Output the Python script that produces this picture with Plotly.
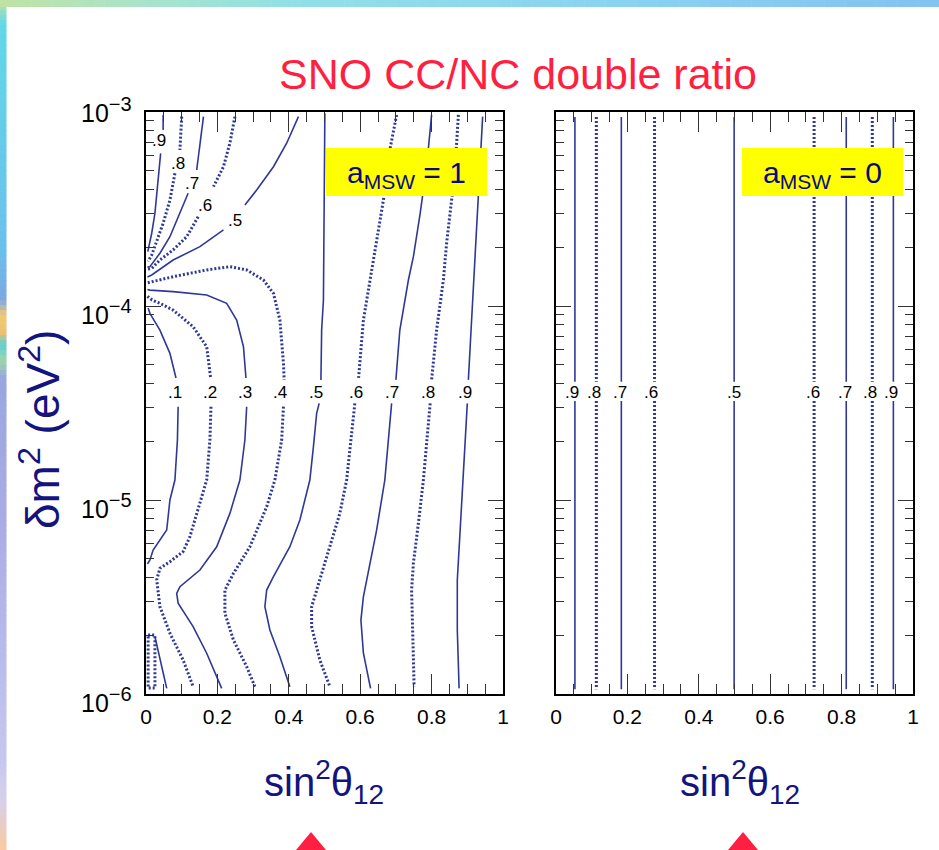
import plotly.graph_objects as go
import numpy as np

# ---------------- data (sin^2 theta12, log10 dm^2) ----------------
# a_MSW = 1 panel : upper-left family (converging at resonance)
u9_x = [0.048, 0.048, None, 0.041, 0.034, 0.025, 0.016, 0.009, 0.005]
u9_lg = [-3.015, -3.093, None, -3.213, -3.368, -3.522, -3.625, -3.677, -3.72]
u8_x = [0.100, 0.095, None, 0.081, 0.067, 0.048, 0.030, 0.016, 0.006]
u8_lg = [-3.024, -3.196, None, -3.316, -3.454, -3.574, -3.660, -3.737, -3.77]
u7_x = [0.161, 0.151, 0.142, None, 0.118, 0.095, 0.067, 0.039, 0.011, 0.004]
u7_lg = [-3.024, -3.179, -3.299, None, -3.419, -3.522, -3.643, -3.728, -3.797, -3.80]
u6_x = [0.249, 0.235, 0.217, 0.189, None, 0.146, 0.114, 0.076, 0.039, 0.016, 0.004]
u6_lg = [-3.024, -3.161, -3.282, -3.385, None, -3.540, -3.643, -3.711, -3.763, -3.806, -3.81]
u5_x = [0.427, 0.394, 0.357, 0.310, 0.277, None, 0.217, 0.151, 0.076, 0.016, 0.004]
u5_lg = [-3.024, -3.161, -3.282, -3.402, -3.479, None, -3.608, -3.694, -3.763, -3.840, -3.85]

# a_MSW = 1 panel : main family
c1_x = [0.006, 0.011, 0.039, 0.067, 0.084, None, 0.090, 0.088, 0.081, 0.067, 0.058, 0.034, 0.020, 0.011, 0.004]
c1_lg = [-4.01, -4.038, -4.124, -4.244, -4.371, None, -4.519, -4.691, -4.897, -5.000, -5.155, -5.223, -5.258, -5.309, -5.33]
c1b_x = [0.025, 0.058]
c1b_lg = [-5.705, -5.971]
c0_x = [0.006, 0.025, 0.025, 0.006, 0.006]
c0_lg = [-5.696, -5.696, -5.969, -5.969, -5.696]
c2_x = [0.004, 0.017, 0.039, 0.076, 0.132, 0.170, 0.181, None, 0.182, 0.179, 0.170, 0.151, 0.123, 0.104, 0.067, 0.039, 0.030, 0.039, 0.067, 0.104, 0.132]
c2_lg = [-3.95, -3.969, -3.986, -4.021, -4.107, -4.210, -4.371, None, -4.519, -4.691, -4.897, -5.017, -5.189, -5.266, -5.318, -5.352, -5.412, -5.550, -5.687, -5.825, -5.962]
c3_x = [0.004, 0.011, 0.076, 0.170, 0.226, 0.254, 0.273, 0.280, None, 0.282, 0.277, 0.263, 0.235, 0.198, 0.151, 0.095, 0.086, 0.090, 0.132, 0.170, 0.212]
c3_lg = [-3.915, -3.918, -3.926, -3.943, -3.986, -4.072, -4.210, -4.371, None, -4.519, -4.691, -4.897, -5.069, -5.241, -5.361, -5.447, -5.481, -5.532, -5.653, -5.790, -5.971]
c4_x = [0.005, 0.016, 0.076, 0.170, 0.235, 0.282, 0.329, 0.357, 0.375, 0.385, 0.387, None, 0.385, 0.380, 0.361, 0.338, 0.291, 0.245, 0.221, 0.221, 0.245, 0.282, 0.305]
c4_lg = [-3.88, -3.875, -3.849, -3.814, -3.797, -3.814, -3.866, -3.935, -4.072, -4.295, -4.381, None, -4.519, -4.691, -4.897, -5.035, -5.241, -5.378, -5.464, -5.584, -5.722, -5.859, -5.962]
c5_x = [0.501, 0.499, 0.497, 0.492, 0.490, None, 0.485, 0.478, 0.469, 0.459, 0.431, 0.403, 0.357, 0.338, 0.333, 0.347, 0.375, 0.403]
c5_lg = [-3.007, -3.454, -3.969, -4.124, -4.381, None, -4.502, -4.553, -4.725, -4.897, -5.103, -5.241, -5.395, -5.464, -5.550, -5.670, -5.808, -5.962]
c6_x = [0.702, 0.683, 0.665, 0.646, 0.627, 0.609, 0.595, None, 0.585, 0.562, 0.543, 0.515, 0.478, 0.464, 0.464, 0.487, 0.515]
c6_lg = [-3.015, -3.196, -3.454, -3.660, -3.866, -4.072, -4.381, None, -4.502, -4.897, -5.069, -5.241, -5.464, -5.550, -5.653, -5.825, -5.962]
c7_x = [0.800, 0.786, 0.768, 0.749, 0.735, 0.711, 0.700, None, 0.688, 0.669, 0.646, 0.627, 0.609, 0.602, 0.609, 0.629]
c7_lg = [-3.015, -3.282, -3.522, -3.746, -3.866, -4.124, -4.381, None, -4.502, -4.897, -5.155, -5.326, -5.498, -5.619, -5.790, -5.971]
c8_x = [0.875, 0.863, 0.856, 0.842, 0.833, 0.814, 0.800, None, 0.796, 0.777, 0.763, 0.749, 0.744, 0.747, 0.751]
c8_lg = [-3.015, -3.368, -3.454, -3.677, -3.866, -4.124, -4.381, None, -4.502, -4.897, -5.120, -5.326, -5.464, -5.670, -5.962]
c9_x = [0.943, 0.931, 0.919, 0.908, 0.903, None, 0.900, 0.889, 0.880, 0.872, 0.872, 0.877]
c9_lg = [-3.024, -3.454, -3.866, -4.210, -4.381, None, -4.502, -4.897, -5.155, -5.412, -5.670, -5.971]

# contour labels, a_MSW = 1
lab1_text = [".1", ".2", ".3", ".4", ".5", ".6", ".7", ".8", ".9"]
lab1_x = [0.081, 0.179, 0.277, 0.375, 0.476, 0.588, 0.689, 0.790, 0.894]
lab1_lg = [-4.447] * 9
labu_text = [".9", ".8", ".7", ".6", ".5"]
labu_x = [0.036, 0.090, 0.130, 0.166, 0.250]
labu_lg = [-3.149, -3.263, -3.366, -3.482, -3.557]

# a_MSW = 0 panel : vertical contours
r_x = [0.053, 0.113, 0.183, 0.276, 0.499, 0.723, 0.813, 0.886, 0.945]
r_text = [".9", ".8", ".7", ".6", ".5", ".6", ".7", ".8", ".9"]
r_lab_x = [0.045, 0.106, 0.178, 0.266, 0.499, 0.720, 0.810, 0.880, 0.937]
r_lg = [-3.026, -4.39, None, -4.49, -5.975]

x_ticks = [0, 0.2, 0.4, 0.6, 0.8, 1]
x_ticktext = ["0", "0.2", "0.4", "0.6", "0.8", "1"]
y_ticks = [1e-6, 1e-5, 1e-4, 1e-3]
y_exp = [-6, -5, -4, -3]

# ---------------- figure ----------------
W, H = 939, 850
def px(x): return x / W
def py(y): return 1 - y / H

LINE = "#2f3896"
SOLID = dict(color=LINE, width=1.6)
DOT = dict(color=LINE, width=3, dash="2px,2px")
NAVY = "#14147e"
FONT = "Liberation Sans, Arial, sans-serif"

fig = go.Figure()

def add(xs, lgs, style, xa="x", ya="y"):
    ys = [None if v is None else 10 ** v for v in lgs]
    fig.add_trace(go.Scatter(x=xs, y=ys, mode="lines", line=style, xaxis=xa, yaxis=ya,
                             hoverinfo="skip", showlegend=False))

for xs, lg, st in [(u9_x, u9_lg, SOLID), (u8_x, u8_lg, DOT), (u7_x, u7_lg, SOLID),
                   (u6_x, u6_lg, DOT), (u5_x, u5_lg, SOLID),
                   (c1_x, c1_lg, SOLID), (c1b_x, c1b_lg, SOLID), (c0_x, c0_lg, DOT),
                   (c2_x, c2_lg, DOT), (c3_x, c3_lg, SOLID), (c4_x, c4_lg, DOT),
                   (c5_x, c5_lg, SOLID), (c6_x, c6_lg, DOT), (c7_x, c7_lg, SOLID),
                   (c8_x, c8_lg, DOT), (c9_x, c9_lg, SOLID)]:
    add(xs, lg, st)

for i, xv in enumerate(r_x):
    st = DOT if r_text[i] in (".8", ".6") else SOLID
    add([xv, xv, None, xv, xv], r_lg, st, "x2", "y2")

LAB = dict(size=17, color="black", family=FONT)
ann = []
for t, xv, yv in zip(lab1_text, lab1_x, lab1_lg):
    ann.append(dict(x=xv, y=yv, xref="x", yref="y", text=t, showarrow=False, font=LAB,
                    xanchor="center", yanchor="middle"))
for t, xv, yv in zip(labu_text, labu_x, labu_lg):
    ann.append(dict(x=xv, y=yv, xref="x", yref="y", text=t, showarrow=False, font=LAB,
                    xanchor="center", yanchor="middle"))
for t, xv in zip(r_text, r_lab_x):
    ann.append(dict(x=xv, y=-4.447, xref="x2", yref="y2", text=t, showarrow=False, font=LAB,
                    xanchor="center", yanchor="middle"))

# y tick labels (power-of-ten form)
for e in y_exp:
    ann.append(dict(x=px(134), y=e, xref="paper", yref="y", xanchor="right", yanchor="middle",
                    text="10<sup><span style='font-size:20px'>\u2212%d</span></sup>" % (-e),
                    showarrow=False, yshift=(2 if e == -3 else -6),
                    font=dict(size=25, color="black", family=FONT)))

def pann(x, y, text, size, color, angle=0):
    ann.append(dict(x=px(x), y=py(y), xref="paper", yref="paper", text=text, showarrow=False,
                    xanchor="center", yanchor="middle", textangle=angle,
                    font=dict(size=size, color=color, family=FONT)))

# titles
pann(518, 74, "SNO CC/NC double ratio", 43, "#ff1f40")
for cx in (324, 740):
    pann(cx, 782, "sin<sup>2</sup>\u03b8<sub>12</sub>", 40, NAVY)
pann(40, 430, "\u03b4m<sup>2</sup> (eV<sup>2</sup>)", 46, NAVY, -90)

shapes = []
# yellow boxes
for (x0, x1, txt) in [(326, 487, "a<sub>MSW</sub> = 1"), (742, 903, "a<sub>MSW</sub> = 0")]:
    shapes.append(dict(type="rect", xref="paper", yref="paper", x0=px(x0), x1=px(x1),
                       y0=py(196), y1=py(148), fillcolor="#ffff00", line=dict(width=0), layer="above"))
    pann((x0 + x1) / 2, 174, txt, 30, "#0a0a80")

# slide decoration: gradient strips
def hex2rgb(h):
    h = h.lstrip("#"); return np.array([int(h[i:i + 2], 16) for i in (0, 2, 4)], float)
def grad(stops, a, b, n):
    pos = [s[0] for s in stops]; cols = [hex2rgb(s[1]) for s in stops]
    out = []
    for k in range(n):
        t0 = a + (b - a) * k / n; t1 = a + (b - a) * (k + 1) / n; tm = (t0 + t1) / 2
        c = np.array([np.interp(tm, pos, [cc[j] for cc in cols]) for j in range(3)])
        out.append((t0, t1, "rgb(%d,%d,%d)" % tuple(c.astype(int))))
    return out

left_stops = [(0, "#bfe2a6"), (25, "#62d8e8"), (250, "#6cc0ec"), (300, "#7ea8e2"), (315, "#f2ca74"),
              (332, "#f0c070"), (345, "#5ccfd6"), (360, "#9cd8a8"), (378, "#9aa6e0"), (540, "#adaee6"),
              (760, "#c6c8f0"), (800, "#d8d0ec"), (850, "#fbcaa0")]
for y0, y1, c in grad(left_stops, 0, 850, 170):
    shapes.append(dict(type="rect", xref="paper", yref="paper", x0=0, x1=px(6.5), y0=py(y1 + 0.5),
                       y1=py(y0), fillcolor=c, line=dict(width=0), layer="below"))
top_stops = [(0, "#c0e3a4"), (150, "#a8e4cc"), (300, "#90e0e8"), (600, "#8ad4f0"), (939, "#84c2f0")]
for x0, x1, c in grad(top_stops, 0, 939, 90):
    shapes.append(dict(type="rect", xref="paper", yref="paper", x0=px(x0), x1=px(x1 + 0.5), y0=py(7),
                       y1=1, fillcolor=c, line=dict(width=0), layer="below"))
# red triangles at bottom
for cx in (311, 743):
    shapes.append(dict(type="path", xref="paper", yref="paper",
                       path="M %f %f L %f %f L %f %f Z" % (px(cx), py(832), px(cx - 20), py(856), px(cx + 20), py(856)),
                       fillcolor="#ff1f40", line=dict(width=0), layer="above"))

minor_x = [v for v in np.round(np.arange(0.05, 1.0, 0.05), 2) if round(v * 100) % 20 != 0]
minor_y = [k * 10.0 ** d for d in (-6, -5, -4) for k in range(2, 10)]

xcommon = dict(range=[0, 1], tickmode="array", tickvals=x_ticks, ticktext=x_ticktext,
               ticks="inside", ticklen=20, tickwidth=1.2, tickcolor="#333",
               showline=True, linecolor="black", linewidth=2, mirror="allticks",
               showgrid=False, zeroline=False, ticklabelstandoff=3,
               tickfont=dict(size=21, color="black", family=FONT),
               minor=dict(tickmode="array", tickvals=minor_x, ticks="inside", ticklen=10,
                          tickwidth=1.2, tickcolor="#333", showgrid=False))
ycommon = dict(type="log", range=[-6, -3], tickmode="array", tickvals=y_ticks,
               ticks="inside", ticklen=15, tickwidth=1.2, tickcolor="#333",
               showline=True, linecolor="black", linewidth=2, mirror="allticks",
               showgrid=False, zeroline=False, showticklabels=False,
               minor=dict(tickmode="array", tickvals=minor_y, ticks="inside", ticklen=8,
                          tickwidth=1.2, tickcolor="#333", showgrid=False),
               domain=[py(694), py(112)])

fig.update_layout(
    width=W, height=H, margin=dict(l=0, r=0, t=0, b=0, autoexpand=False),
    paper_bgcolor="white", plot_bgcolor="white", showlegend=False,
    xaxis=dict(domain=[px(146), px(503)], anchor="y", **xcommon),
    xaxis2=dict(domain=[px(556), px(913)], anchor="y2", **xcommon),
    yaxis=dict(anchor="x", **ycommon),
    yaxis2=dict(anchor="x2", **ycommon),
    annotations=ann, shapes=shapes,
)

fig.write_html("out.html",
               post_script="document.body.style.margin='0px';document.body.style.overflow='hidden';")
